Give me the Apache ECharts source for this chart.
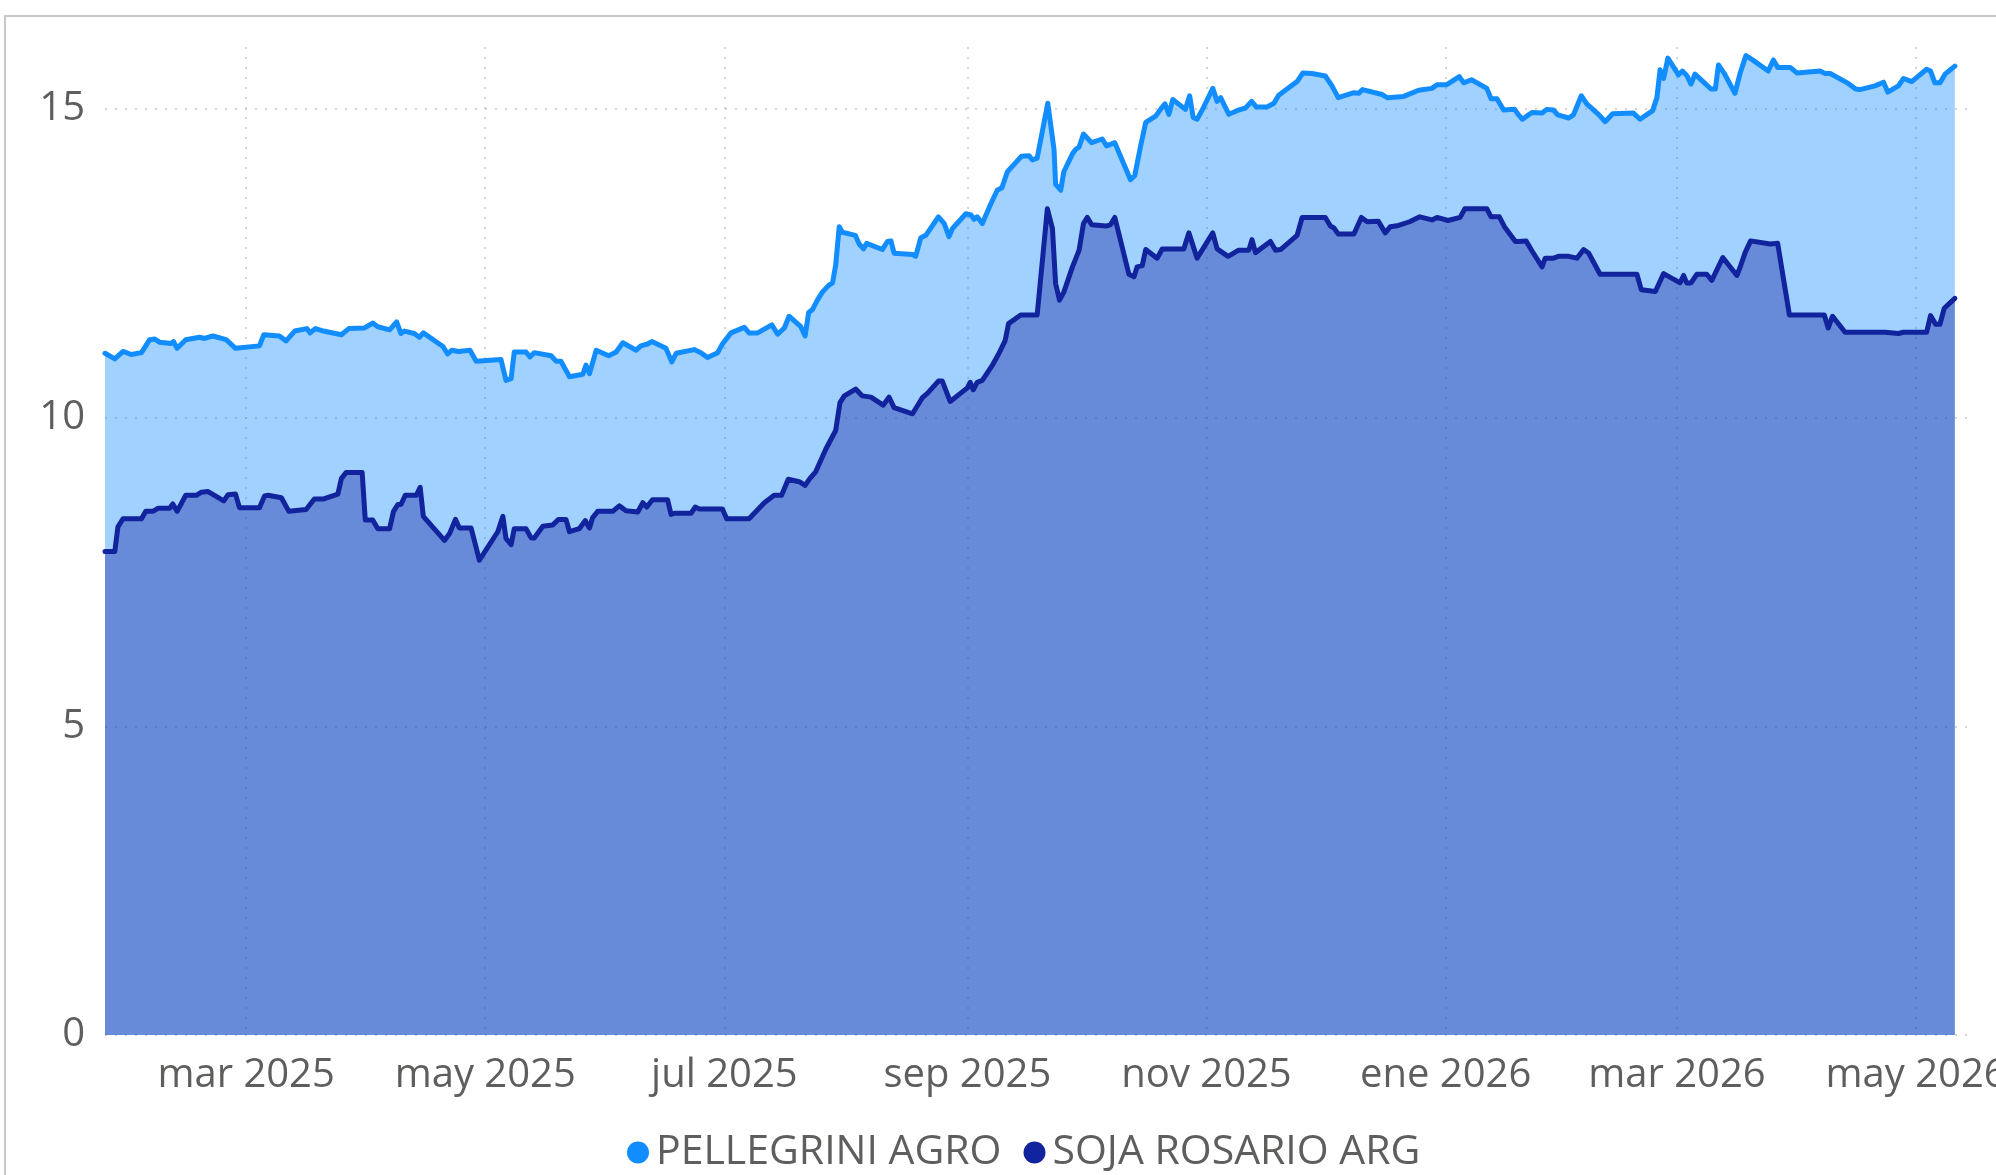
<!DOCTYPE html>
<html>
<head>
<meta charset="utf-8">
<script src="https://cdn.jsdelivr.net/npm/echarts@6/dist/echarts.min.js"></script>
<style>
html, body { margin: 0; padding: 0; background: #fff; }
#chart { width: 1996px; height: 1175px; }
</style>
</head>
<body>
<div id="chart"></div>
<script>
// series x values are day offsets from startDate
var startDate = '2025-01-24';
var axisMin = '2025-01-24';
var axisMax = '2026-05-14';

var xTicks = ['2025-03-01', '2025-05-01', '2025-07-01', '2025-09-01', '2025-11-01', '2026-01-01', '2026-03-01', '2026-05-01'];
var xTickLabels = ['mar 2025', 'may 2025', 'jul 2025', 'sep 2025', 'nov 2025', 'ene 2026', 'mar 2026', 'may 2026'];
var yTicks = [0, 5, 10, 15];

var seriesNames = ['PELLEGRINI AGRO', 'SOJA ROSARIO ARG'];

// PELLEGRINI AGRO
var pelDay = [
  0, 2.5, 4.6, 6.7, 9.3, 11.4, 12.7, 13.9, 16.9, 17.5,
  18.4, 20.6, 24.1, 25.4, 27.5, 30.9, 33.3, 39.4, 40.5, 44.5,
  46.2, 48.4, 51.5, 52.3, 53.7, 55.7, 60.3, 62.2, 66.2, 68.3,
  69.6, 72.6, 74.4, 75.5, 76.4, 78.9, 80.2, 81.2, 86.2, 87.4,
  88.5, 90.2, 93.1, 94.7, 101.0, 102.3, 103.6, 104.4, 107.4, 108.4,
  109.5, 113.8, 115.1, 116.3, 118.5,
  121.9, 122.7, 123.6, 125.3, 128.5, 130.4, 132.1, 135.5, 136.7, 138.4,
  139.5, 143.1, 144.6, 145.7, 150.3, 152.0, 153.7, 156.3, 157.5, 159.7,
  163.1, 164.3, 166.5, 170.1, 171.6, 173.3, 174.5, 177.5, 178.6, 179.5,
  180.5, 181.8, 183.0, 184.6, 185.6, 186.4, 187.3, 188.1, 191.4, 192.4,
  193.5, 194.3, 198.3, 199.6, 200.5, 201.3, 206.0, 206.8, 208.1, 209.4,
  212.6, 214.1, 215.3, 216.2, 219.6, 220.9, 221.7, 222.5, 223.8, 225.9,
  227.6, 228.8, 230.2, 231.5, 233.8, 235.7, 236.6, 237.8, 240.5,
  242.1, 242.5, 243.8, 244.6, 246.8, 247.6, 248.5, 249.6, 251.7, 254.4,
  255.5, 257.6, 261.6, 262.7, 264.2, 265.5, 268.0, 269.5, 270.4, 271.4,
  272.4, 275.6, 276.7, 277.6, 278.6, 279.9, 282.6, 283.7, 284.6, 286.7,
  289.2, 290.9, 292.5, 293.7, 296.5, 298.2, 299.4, 304.1, 305.6, 307.9,
  311.3, 313.0, 314.6, 318.6, 319.8, 320.8, 325.8, 327.1, 331.3, 335.1,
  338.5, 339.8, 342.3, 345.5, 346.6, 348.6, 352.5, 353.6, 355.1, 356.8,
  359.6, 360.6,
  361.6, 364.0, 366.6, 367.8, 369.5, 370.6, 373.4, 374.6, 376.6, 378.0,
  381.0, 382.7, 384.6, 389.9, 391.6, 394.8, 395.9, 396.7, 397.6, 398.7,
  401.4, 402.4, 403.5, 404.6, 405.6, 407.8, 409.7, 410.8, 411.6, 413.1,
  415.8, 417.1, 418.6, 420.1, 424.3, 425.6, 426.7, 429.9, 431.6, 437.5,
  438.8, 440.1, 444.7, 446.6, 447.7, 451.5, 453.7, 454.8, 457.5, 458.8,
  460.9, 464.7, 465.7, 466.8, 468.1, 469.4, 471.9
];
var pelVal = [
  11.04, 10.95, 11.07, 11.02, 11.05, 11.26, 11.27, 11.22, 11.20, 11.23,
  11.12, 11.26, 11.30, 11.28, 11.32, 11.26, 11.12, 11.16, 11.34, 11.32,
  11.24, 11.40, 11.44, 11.37, 11.44, 11.40, 11.34, 11.44, 11.45, 11.53,
  11.47, 11.42, 11.55, 11.36, 11.40, 11.36, 11.30, 11.37, 11.15, 11.03,
  11.09, 11.07, 11.09, 10.91, 10.94, 10.60, 10.63, 11.06, 11.06, 10.98,
  11.05, 11.00, 10.91, 10.91, 10.66,
  10.70, 10.85, 10.71, 11.09, 11.00, 11.06, 11.21, 11.09, 11.16, 11.19,
  11.23, 11.12, 10.90, 11.04, 11.10, 11.05, 10.97, 11.05, 11.19, 11.37,
  11.46, 11.37, 11.37, 11.50, 11.35, 11.45, 11.64, 11.47, 11.32, 11.70,
  11.75, 11.91, 12.03, 12.14, 12.18, 12.47, 13.09, 13.00, 12.95, 12.81,
  12.73, 12.82, 12.72, 12.85, 12.86, 12.66, 12.64, 12.61, 12.91, 12.95,
  13.25, 13.14, 12.93, 13.06, 13.30, 13.28, 13.21, 13.25, 13.14, 13.45,
  13.68, 13.72, 13.98, 14.07, 14.23, 14.24, 14.17, 14.20, 15.09,
  14.34, 13.78, 13.68, 13.98, 14.27, 14.34, 14.38, 14.59, 14.45, 14.51,
  14.40, 14.45, 13.85, 13.92, 14.40, 14.78, 14.88, 15.01, 15.08, 14.91,
  15.15, 14.99, 15.21, 14.86, 14.83, 14.98, 15.33, 15.12, 15.18, 14.91,
  14.98, 15.01, 15.12, 15.03, 15.03, 15.09, 15.22, 15.44, 15.58, 15.57,
  15.53, 15.37, 15.18, 15.26, 15.25, 15.31, 15.23, 15.18, 15.20, 15.30,
  15.33, 15.39, 15.39, 15.52, 15.42, 15.47, 15.33, 15.16, 15.16, 14.98,
  14.99, 14.90,
  14.83, 14.94, 14.93, 14.99, 14.98, 14.90, 14.85, 14.90, 15.21, 15.08,
  14.91, 14.79, 14.92, 14.93, 14.83, 14.97, 15.18, 15.63, 15.49, 15.82,
  15.55, 15.61, 15.54, 15.40, 15.56, 15.43, 15.32, 15.32, 15.71, 15.57,
  15.25, 15.57, 15.86, 15.80, 15.61, 15.79, 15.67, 15.67, 15.58, 15.61,
  15.57, 15.57, 15.41, 15.32, 15.31, 15.37, 15.43, 15.27, 15.37, 15.49,
  15.44, 15.64, 15.61, 15.42, 15.42, 15.56, 15.69
];

// SOJA ROSARIO ARG
var sojaDay = [
  0, 2.5, 3.3, 4.6, 9.3, 10.4, 12.2, 13.5, 16.5, 17.3,
  18.4, 20.6, 23.3, 24.6, 26.3, 30.3, 31.4, 33.3, 34.3, 39.4,
  40.7, 41.6, 45.0, 46.9, 51.3, 53.4, 55.6, 59.4, 60.3, 61.5,
  65.6, 66.4, 68.3, 69.6, 72.6, 73.6, 74.7, 75.5, 76.6, 79.4,
  80.4, 81.2, 86.6, 87.9, 89.4, 90.4, 93.4, 95.5, 100.2, 101.5,
  102.3, 103.6, 104.4, 107.4, 108.7, 109.5, 111.7, 114.2, 115.7, 117.6,
  118.5,
  121.0, 122.5, 123.6, 124.4, 125.7, 129.5, 131.2, 132.9, 135.9, 137.2,
  138.2, 139.7, 143.5, 144.4, 145.2, 149.5, 150.6, 151.6, 157.5, 158.6,
  164.3, 168.2, 170.7, 172.6, 174.3, 177.1, 178.6, 179.8, 181.3, 183.9,
  186.4, 187.5, 188.6, 191.5, 193.2, 195.4, 198.5, 200.0, 201.3, 206.0,
  208.5, 209.8, 212.6, 213.6, 215.6, 220.0, 220.7, 221.5, 222.5, 223.8,
  226.4, 227.9, 229.6, 230.5, 233.6, 237.8, 240.4,
  241.7, 242.5, 243.5, 244.6, 246.8, 248.5, 249.6, 250.6, 251.7, 255.3,
  256.5, 257.6, 261.2, 262.5, 263.3, 264.6, 265.5, 268.4, 269.7, 275.2,
  276.5, 278.6, 282.6, 283.7, 286.5, 289.2, 291.8, 292.6, 293.5, 297.3,
  298.6, 299.9, 304.1, 305.4, 311.3, 312.6, 313.5, 314.6, 318.6, 320.5,
  322.0, 324.8, 326.6, 327.9, 330.0, 332.8, 335.4, 338.5, 339.8, 342.6,
  345.7, 346.9, 352.5, 353.6, 355.7, 357.0, 359.8, 360.6,
  362.5, 364.0, 366.6, 367.4, 369.5, 370.8, 373.4, 375.5, 377.2, 378.5,
  381.4, 390.8, 391.9, 395.5, 397.6, 401.8, 402.7, 403.5, 404.6, 406.1,
  408.6, 409.9, 412.7, 416.3, 417.1, 418.4, 419.8, 424.8, 426.7, 429.7,
  438.6, 439.6, 440.7, 443.9, 454.1, 457.5, 458.8, 464.7, 465.7, 467.0,
  468.1, 469.2, 471.9
];
var sojaVal = [
  7.83, 7.83, 8.23, 8.36, 8.36, 8.48, 8.48, 8.53, 8.53, 8.60,
  8.48, 8.74, 8.74, 8.79, 8.80, 8.65, 8.75, 8.76, 8.54, 8.54,
  8.73, 8.74, 8.70, 8.48, 8.51, 8.68, 8.68, 8.76, 9.01, 9.11,
  9.11, 8.34, 8.34, 8.20, 8.20, 8.48, 8.59, 8.59, 8.74, 8.74,
  8.87, 8.40, 8.01, 8.12, 8.35, 8.21, 8.21, 7.69, 8.15, 8.40,
  8.04, 7.94, 8.20, 8.20, 8.05, 8.05, 8.24, 8.26, 8.35, 8.35,
  8.15,
  8.20, 8.33, 8.21, 8.38, 8.48, 8.48, 8.57, 8.49, 8.47, 8.62,
  8.55, 8.67, 8.67, 8.43, 8.45, 8.45, 8.55, 8.52, 8.52, 8.36,
  8.36, 8.62, 8.74, 8.74, 9.00, 8.96, 8.90, 9.01, 9.12, 9.49,
  9.79, 10.24, 10.35, 10.46, 10.35, 10.33, 10.20, 10.33, 10.16, 10.06,
  10.32, 10.39, 10.59, 10.59, 10.26, 10.48, 10.57, 10.45, 10.57, 10.60,
  10.85, 11.02, 11.24, 11.52, 11.66, 11.66, 13.38,
  13.06, 12.17, 11.90, 12.03, 12.44, 12.71, 13.14, 13.24, 13.12, 13.10,
  13.12, 13.24, 12.32, 12.28, 12.44, 12.46, 12.72, 12.58, 12.73, 12.73,
  12.99, 12.58, 12.99, 12.73, 12.61, 12.71, 12.71, 12.88, 12.67, 12.85,
  12.71, 12.72, 12.95, 13.24, 13.24, 13.10, 13.07, 12.97, 12.97, 13.24,
  13.17, 13.18, 12.99, 13.09, 13.11, 13.17, 13.25, 13.20, 13.24, 13.19,
  13.24, 13.38, 13.38, 13.25, 13.25, 13.09, 12.85, 12.85,
  12.86, 12.70, 12.44, 12.58, 12.58, 12.61, 12.61, 12.58, 12.72, 12.66,
  12.32, 12.32, 12.07, 12.04, 12.33, 12.18, 12.30, 12.18, 12.18, 12.32,
  12.32, 12.22, 12.59, 12.30, 12.43, 12.67, 12.86, 12.81, 12.82, 11.66,
  11.66, 11.45, 11.64, 11.38, 11.38, 11.36, 11.38, 11.38, 11.65, 11.51,
  11.51, 11.77, 11.93
];

var DAY = 24 * 3600 * 1000;
var FONT = "'Segoe UI', 'Open Sans', sans-serif";
var TEXT_COLOR = '#605E5C';

function toTime(s) {
  var p = s.split('-');
  return new Date(+p[0], +p[1] - 1, +p[2]).getTime();
}

var t0 = toTime(startDate);
var xTickTimes = xTicks.map(toTime);

function makePairs(days, vals) {
  return days.map(function (d, i) { return [t0 + d * DAY, vals[i]]; });
}

var myChart = echarts.init(document.getElementById('chart'));

var option = {
  animation: false,
  backgroundColor: '#fff',
  textStyle: { fontFamily: FONT },
  graphic: [{
    // light frame round the visual
    type: 'rect',
    silent: true,
    shape: { x: 5, y: 16, width: 2300, height: 1400 },
    style: { fill: 'none', stroke: '#C8C8C8', lineWidth: 2 }
  }],
  legend: {
    data: seriesNames,
    icon: 'circle',
    left: 627,
    top: 1132,
    itemWidth: 22,
    itemHeight: 22,
    itemGap: 22,
    padding: 0,
    textStyle: { fontSize: 41, color: TEXT_COLOR, fontFamily: FONT, padding: [0, 0, 0, 2] }
  },
  grid: {
    left: 105,
    right: 29,
    top: 47,
    bottom: 140,
    containLabel: false,
    outerBoundsMode: 'none'
  },
  // time runs on a value axis (timestamps) so the month ticks can be fixed
  xAxis: {
    type: 'value',
    min: toTime(axisMin),
    max: toTime(axisMax),
    axisLine: { show: false },
    axisTick: { show: false, customValues: xTickTimes },
    axisLabel: {
      customValues: xTickTimes,
      fontSize: 40,
      color: TEXT_COLOR,
      fontFamily: FONT,
      margin: 21,
      formatter: function (val) {
        var i = xTickTimes.indexOf(val);
        return i >= 0 ? xTickLabels[i] : '';
      }
    },
    splitLine: {
      show: true,
      lineStyle: { color: '#C8C8C8', width: 1.5, type: [2, 8] }
    }
  },
  yAxis: {
    type: 'value',
    min: 0,
    max: 16,
    axisLine: { show: false },
    axisTick: { show: false, customValues: yTicks },
    axisLabel: {
      customValues: yTicks,
      fontSize: 40,
      color: TEXT_COLOR,
      fontFamily: FONT,
      margin: 20,
      padding: [5, 0, 0, 0]
    },
    splitLine: {
      show: true,
      lineStyle: { color: '#C8C8C8', width: 1.5, type: [2, 8] }
    }
  },
  series: [
    {
      name: seriesNames[0],
      type: 'line',
      showSymbol: false,
      data: makePairs(pelDay, pelVal),
      itemStyle: { color: '#118DFF' },
      lineStyle: { color: '#118DFF', width: 5, join: 'round', cap: 'round' },
      areaStyle: { color: '#118DFF', opacity: 0.4 }
    },
    {
      name: seriesNames[1],
      type: 'line',
      showSymbol: false,
      data: makePairs(sojaDay, sojaVal),
      itemStyle: { color: '#12239E' },
      lineStyle: { color: '#12239E', width: 5, join: 'round', cap: 'round' },
      areaStyle: { color: '#12239E', opacity: 0.4 }
    }
  ]
};

myChart.setOption(option);
</script>
</body>
</html>
